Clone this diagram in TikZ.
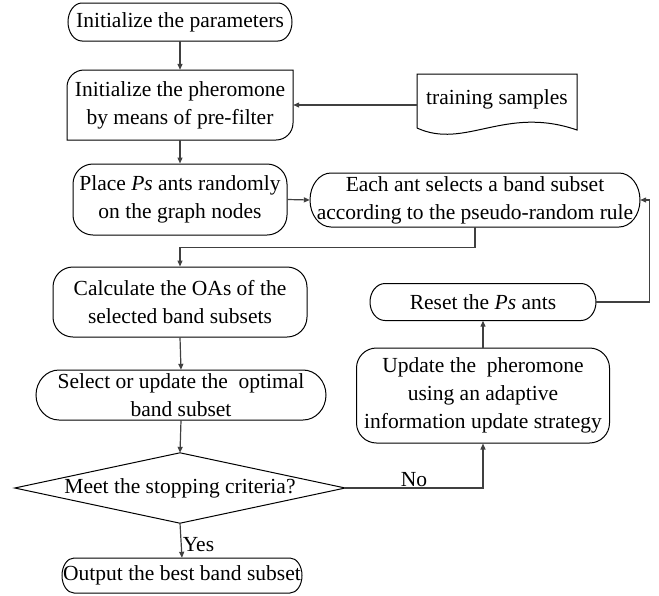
\documentclass[tikz,border=0pt]{standalone}
\usepackage{fontspec}
\setmainfont{Liberation Serif}
\usetikzlibrary{arrows.meta,calc}
\newcommand{\stadnode}[7]{%
  \node[txt, minimum width=#4pt, minimum height=#5pt] (#1) at (#2,-#3) {#7};
  \draw[box] (#2-#4/2+#6,-#3+#5/2) -- (#2+#4/2-#6,-#3+#5/2)
    arc[start angle=90,end angle=-90,x radius=#6pt,y radius={(#5)*0.5pt}]
    -- (#2-#4/2+#6,-#3-#5/2)
    arc[start angle=270,end angle=90,x radius=#6pt,y radius={(#5)*0.5pt}] -- cycle;}
\begin{document}
\begin{tikzpicture}[x=1pt,y=1pt,
  txt/.style={inner sep=0pt, align=center, font=\fontsize{21.5}{28}\selectfont},
  box/.style={draw=black, line width=1pt},
  rbox/.style={txt, box, rounded corners=20pt},
  conn/.style={draw=black!75, line width=1.2pt, -{Triangle[length=6pt,width=5pt]}},
  lbl/.style={inner sep=1pt, font=\fontsize{21.5}{26}\selectfont}]
\useasboundingbox (0,0) rectangle (659,-595);

% start
\stadnode{n1}{180}{22}{224}{38}{14}{Initialize the parameters}

% initialize pheromone (two rounded corners)
\node[txt, minimum width=226pt, minimum height=70pt] (n2) at (180,-105)
  {Initialize the pheromone\\by means of pre-filter};
\draw[box] (67,-140) -- (67,-87) arc[start angle=180,end angle=90,radius=17pt]
  -- (293,-70) -- (293,-123) arc[start angle=0,end angle=-90,radius=17pt] -- cycle;

% training samples (document)
\node[txt, minimum width=160pt, minimum height=54pt] (ts) at (497,-99) {training samples};
\draw[box] (417,-128) -- (417,-74) -- (577,-74) -- (577,-130)
  .. controls (505,-105) and (465,-150) .. (417,-128);

% place ants
\node[rbox, minimum width=214pt, minimum height=71pt] (n3) at (180,-199.5)
  {Place \textit{Ps} ants randomly\\on the graph nodes};

% each ant selects
\stadnode{n4}{475}{200}{330}{54}{21}{Each ant selects a band subset\\according to the pseudo-random rule}

% calculate OAs
\node[rbox, minimum width=254pt, minimum height=70pt] (n5) at (180,-302)
  {Calculate the OAs of the\\selected band subsets};

% select or update
\stadnode{n6}{181}{395}{290}{50}{23}{Select or update the\ \ optimal\\band subset}

% decision
\node[txt, minimum width=330pt, minimum height=70pt] (d) at (180,-488) {Meet the stopping criteria?};
\draw[box] (d.west) -- (d.north) -- (d.east) -- (d.south) -- cycle;

% output
\stadnode{out}{182}{575.5}{240}{35}{12}{Output the best band subset}

% update pheromone
\node[rbox, minimum width=253pt, minimum height=95pt] (up) at (483,-395.5)
  {Update the\ \ pheromone\\using an adaptive\\information update strategy};

% reset
\stadnode{rs}{483}{302}{226}{37}{15}{Reset the \textit{Ps} ants}

% connectors
\draw[conn] (n1.south) -- (n2.north);
\draw[conn] (n2.east -| ts.west) -- (n2.east);
\draw[conn] (n2.south) -- (n3.north);
\draw[conn] (n3.east) -- (n4.west);
\draw[conn] (n4.south) -- ++(0,-20) -| (n5.north);
\draw[conn] (n5.south) -- (n6.north);
\draw[conn] (n6.south) -- (d.north);
\draw[conn] (d.south) -- node[lbl, pos=0.62, right] {Yes} (out.north);
\draw[conn] (d.east) -- node[lbl, midway, above] {No} (up.south |- d.east) -- (up.south);
\draw[conn] (up.north) -- (rs.south);
\draw[conn] (rs.east) -- ++(53,0) |- (n4.east);
\end{tikzpicture}
\end{document}
